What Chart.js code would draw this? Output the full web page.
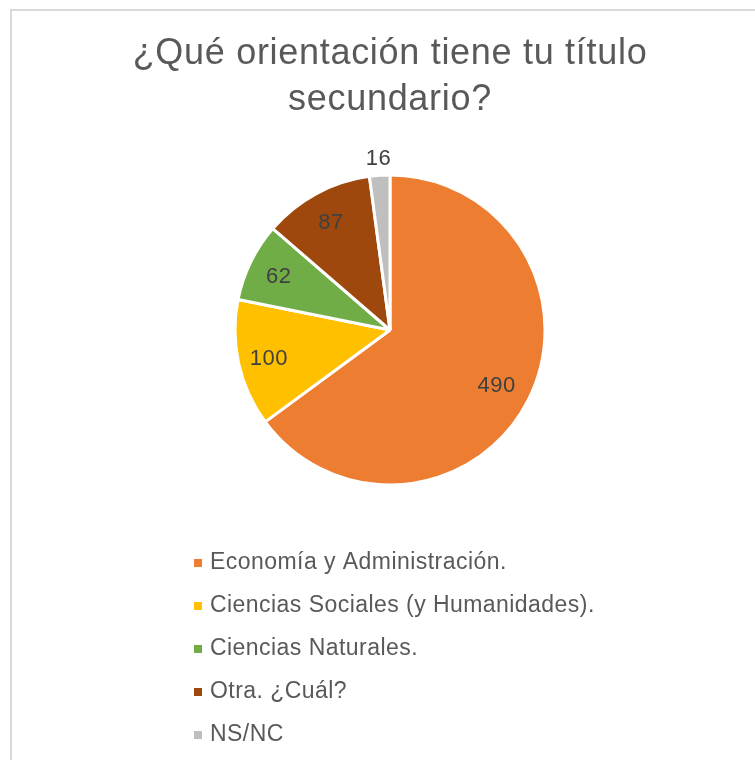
<!DOCTYPE html>
<html><head><meta charset="utf-8">
<script src="https://cdn.jsdelivr.net/npm/chart.js@4/dist/chart.umd.min.js"></script>
<style>
html,body{margin:0;padding:0;background:#fff;}
#wrap{position:relative;width:755px;height:760px;overflow:hidden;}
#frame{position:absolute;left:10px;top:9px;width:760px;height:770px;border:2px solid #d9d9d9;box-sizing:border-box;}
canvas{position:absolute;left:0;top:0;}
</style></head>
<body><div id="wrap"><div id="frame"></div><canvas id="c" width="755" height="760"></canvas></div>
<script>
const titleLines = ['¿Qué orientación tiene tu título', 'secundario?'];
const categories = ['Economía y Administración.', 'Ciencias Sociales (y Humanidades).', 'Ciencias Naturales.', 'Otra. ¿Cuál?', 'NS/NC'];
const values = [490, 100, 62, 87, 16];
const colors = ['#ED7D31', '#FFC000', '#70AD47', '#9E480E', '#BFBFBF'];

const FONT = '"Liberation Sans", Arial, sans-serif';

const titlePlugin = {
  id: 'wideTitle',
  afterDraw(chart) {
    const ctx = chart.ctx;
    ctx.save();
    ctx.font = '36px ' + FONT;
    ctx.letterSpacing = '0.7px';
    ctx.fillStyle = '#595959';
    ctx.textAlign = 'center';
    ctx.textBaseline = 'alphabetic';
    const cx = (chart.chartArea.left + chart.chartArea.right) / 2;
    titleLines.forEach((t, i) => ctx.fillText(t, cx, 64 + i * 46));
    ctx.restore();
  }
};

const labelPlugin = {
  id: 'sliceLabels',
  afterDatasetsDraw(chart) {
    const ctx = chart.ctx;
    const meta = chart.getDatasetMeta(0);
    ctx.save();
    ctx.font = '22px ' + FONT;
    ctx.letterSpacing = '0.5px';
    ctx.fillStyle = '#404040';
    ctx.textAlign = 'center';
    ctx.textBaseline = 'middle';
    meta.data.forEach((arc, i) => {
      const p = arc.getProps(['x','y','startAngle','endAngle','outerRadius'], true);
      const mid = (p.startAngle + p.endAngle) / 2;
      const v = chart.data.datasets[0].data[i];
      const frac = v < 30 ? 1.12 : (v > 300 ? 0.77 : 0.8);
      const r = p.outerRadius * frac;
      ctx.fillText(String(v), p.x + Math.cos(mid) * r, p.y + Math.sin(mid) * r + 2);
    });
    ctx.restore();
  }
};

const legendPlugin = {
  id: 'listLegend',
  afterDraw(chart) {
    const ctx = chart.ctx;
    ctx.save();
    ctx.font = '23px ' + FONT;
    ctx.letterSpacing = '0.45px';
    ctx.textBaseline = 'middle';
    ctx.textAlign = 'left';
    const ds = chart.data.datasets[0];
    chart.data.labels.forEach((lab, i) => {
      const y = 563 + i * 43;
      ctx.fillStyle = ds.backgroundColor[i];
      ctx.fillRect(194, y - 4, 8, 8);
      ctx.fillStyle = '#595959';
      ctx.fillText(lab, 210, y);
    });
    ctx.restore();
  }
};

new Chart(document.getElementById('c'), {
  type: 'pie',
  data: {
    labels: categories,
    datasets: [{ data: values, backgroundColor: colors, borderColor: '#ffffff', borderWidth: 3 }]
  },
  options: {
    responsive: false,
    animation: false,
    radius: 155,
    layout: { padding: { left: 25, right: 0, top: 175, bottom: 275 } },
    plugins: {
      legend: { display: false },
      tooltip: { enabled: false },
      title: { display: false }
    }
  },
  plugins: [labelPlugin, legendPlugin, titlePlugin]
});
</script></body></html>
